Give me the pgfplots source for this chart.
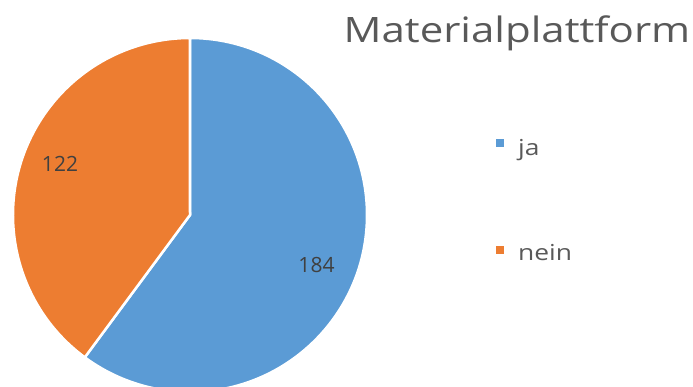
\documentclass[border=0pt]{standalone}
\usepackage{pgfplots}
\usepackage{pgfplotstable}
\pgfplotsset{compat=1.18}
\usepackage{fontspec}
\setmainfont{Open Sans}
\definecolor{pieblue}{HTML}{5B9BD5}
\definecolor{pieorange}{HTML}{ED7D31}
\definecolor{txt}{HTML}{595959}
\definecolor{lbl}{HTML}{404040}
\pgfplotstableread{
label value
ja 184
nein 122
}\piedata
\begin{document}
\begin{tikzpicture}
\pgfplotstablegetelem{0}{value}\of\piedata \let\va\pgfplotsretval
\pgfplotstablegetelem{1}{value}\of\piedata \let\vb\pgfplotsretval
\pgfmathsetmacro{\total}{\va+\vb}
\pgfmathsetmacro{\fa}{\va/\total}
\pgfmathsetmacro{\fb}{\vb/\total}
\pgfmathsetmacro{\angA}{90-360*\fa}
\pgfmathsetmacro{\angB}{\angA-360*\fb}
\begin{axis}[x=1bp,y=1bp,xmin=0,xmax=693,ymin=0,ymax=387,hide axis,
  clip=true, anchor=south west, at={(0,0)}]
% pie slices (center 190,172; radius 177)
\fill[pieblue, draw=white, line width=2.5bp, line join=round]
  (axis cs:190,172) -- (axis cs:190,349) arc[start angle=90, end angle=\angA, radius=177bp] -- cycle;
\fill[pieorange, draw=white, line width=2.5bp, line join=round]
  (axis cs:190,172) -- ++(\angA:177bp) arc[start angle=\angA, end angle=\angB, radius=177bp] -- cycle;
% data labels
\node[text=lbl, font=\fontsize{21bp}{25bp}\selectfont] at (axis cs:316.5,122) {\va};
\node[text=lbl, font=\fontsize{21bp}{25bp}\selectfont] at (axis cs:60,223.5) {\vb};
% title
\node[text=txt, font=\fontsize{35bp}{42bp}\selectfont, anchor=base, inner sep=0pt] at (axis cs:517,345) {\scalebox{1.2}[1]{Materialplattform}};
% legend
\fill[pieblue] (axis cs:496,240) rectangle (axis cs:504,248);
\node[text=txt, font=\fontsize{22bp}{26bp}\selectfont, anchor=base west, inner sep=0pt] at (axis cs:518,232) {\scalebox{1.2}[1]{ja}};
\fill[pieorange] (axis cs:496,133) rectangle (axis cs:504,141);
\node[text=txt, font=\fontsize{22bp}{26bp}\selectfont, anchor=base west, inner sep=0pt] at (axis cs:518,127) {\scalebox{1.2}[1]{nein}};
\end{axis}
\pgfresetboundingbox
\useasboundingbox (0,0) rectangle (693bp,387bp);
\end{tikzpicture}
\end{document}
